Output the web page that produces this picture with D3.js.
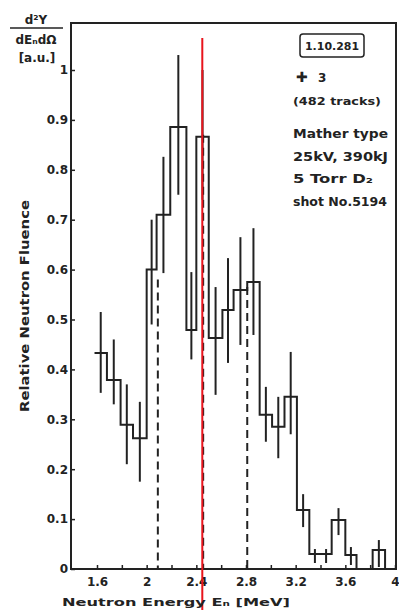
<!DOCTYPE html>
<html>
<head>
<meta charset="utf-8">
<script src="https://cdn.jsdelivr.net/npm/d3@7"></script>
<style>
  html, body { margin: 0; padding: 0; background: #fff; }
  svg { display: block; }
  text { font-family: "DejaVu Sans", sans-serif; font-weight: bold; fill: #222; }
</style>
</head>
<body>
<div id="chart"></div>
<script>
// histogram bins (neutron energy, MeV)
const binStart = [1.58, 1.68, 1.79, 1.89, 2.00, 2.08, 2.19, 2.32, 2.40, 2.50, 2.61, 2.70,
                  2.81, 2.91, 3.01, 3.11, 3.21, 3.31, 3.40, 3.49, 3.60, 3.69, 3.82];
const lastBinEnd = 3.92;
const fluence = [0.433, 0.379, 0.289, 0.262, 0.60, 0.71, 0.886, 0.479, 0.866, 0.463, 0.519, 0.559,
                 0.575, 0.309, 0.285, 0.345, 0.118, 0.03, 0.03, 0.098, 0.028, 0, 0.038];
const errLow  = [0.353, 0.33, 0.21, 0.175, 0.49, 0.593, 0.75, 0.42, 0.74, 0.349, 0.413, 0.449,
                 0.469, 0.255, 0.222, 0.27, 0.084, 0.012, 0.012, 0.068, 0.008, null, 0.004];
const errHigh = [0.515, 0.46, 0.37, 0.335, 0.70, 0.826, 1.03, 0.595, 1.0, 0.565, 0.623, 0.665,
                 0.683, 0.365, 0.345, 0.435, 0.15, 0.04, 0.04, 0.122, 0.044, null, 0.058];

// dashed markers (FWHM limits and mean) and the red marker line
const dashedE = [2.09, 2.455, 2.81];
const dashedTop = [0.58, 0.87, 0.565];
const redLineE = 2.448;

const xTicks = [1.6, 1.8, 2.0, 2.2, 2.4, 2.6, 2.8, 3.0, 3.2, 3.4, 3.6, 3.8, 4.0];
const xTickLabels = {1.6: "1.6", 2.0: "2", 2.4: "2.4", 2.8: "2.8", 3.2: "3.2", 3.6: "3.6", 4.0: "4"};
const yTicks = [0, 0.1, 0.2, 0.3, 0.4, 0.5, 0.6, 0.7, 0.8, 0.9, 1];

const infoLines = ["Mather type", "25kV, 390kJ", "5 Torr D\u2082", "shot No.5194"];

const width = 399, height = 610;
const frame = { left: 71, top: 23, right: 396, bottom: 569 };

const svg = d3.select("#chart").append("svg")
  .attr("width", width)
  .attr("height", height);

const x = d3.scaleLinear().domain([1.6, 4.0]).range([97, 395]);
const y = d3.scaleLinear().domain([0, 1]).range([frame.bottom, 70]);

// frame
svg.append("rect")
  .attr("x", frame.left).attr("y", frame.top)
  .attr("width", frame.right - frame.left).attr("height", frame.bottom - frame.top)
  .attr("fill", "none").attr("stroke", "#222").attr("stroke-width", 2);

// axes, ticks pointing inside
const yAxis = svg.append("g")
  .attr("transform", `translate(${frame.left},0)`)
  .call(d3.axisLeft(y).tickValues(yTicks).tickSize(-4).tickPadding(3)
    .tickFormat(d => d === 0 ? "0" : d === 1 ? "1" : d.toFixed(1)));
yAxis.select(".domain").remove();
yAxis.selectAll(".tick line").attr("stroke", "#222").attr("stroke-width", 1.5);
yAxis.selectAll(".tick text").attr("font-size", 12).attr("fill", "#222")
  .style("font-family", "DejaVu Sans").style("font-weight", "bold");

const xAxis = svg.append("g")
  .attr("transform", `translate(0,${frame.bottom})`)
  .call(d3.axisBottom(x).tickValues(xTicks).tickSize(-4).tickPadding(8)
    .tickFormat(d => xTickLabels[d] || ""));
xAxis.select(".domain").remove();
xAxis.selectAll(".tick line").attr("stroke", "#222").attr("stroke-width", 1.5);
xAxis.selectAll(".tick text").attr("font-size", 12).attr("fill", "#222")
  .style("font-family", "DejaVu Sans").style("font-weight", "bold");

// dashed lines
svg.selectAll(".dash").data(dashedE).enter().append("line")
  .attr("class", "dash")
  .attr("x1", d => x(d)).attr("x2", d => x(d))
  .attr("y1", (d, i) => y(dashedTop[i])).attr("y2", y(0))
  .attr("stroke", "#222").attr("stroke-width", 2).attr("stroke-dasharray", "8,5");

// step histogram
const pts = binStart.map((s, i) => [s, fluence[i]]);
pts.push([lastBinEnd, fluence[fluence.length - 1]]);
pts.push([lastBinEnd, 0]);
const step = d3.line().x(d => x(d[0])).y(d => y(d[1])).curve(d3.curveStepAfter);
svg.append("path")
  .attr("d", step(pts))
  .attr("fill", "none").attr("stroke", "#222").attr("stroke-width", 2);

// error bars at bin centres
const bins = binStart.map((s, i) => ({
  mid: (s + (i < binStart.length - 1 ? binStart[i + 1] : lastBinEnd)) / 2,
  lo: errLow[i], hi: errHigh[i]
})).filter(b => b.lo !== null);
svg.selectAll(".err").data(bins).enter().append("line")
  .attr("class", "err")
  .attr("x1", d => x(d.mid)).attr("x2", d => x(d.mid))
  .attr("y1", d => y(d.lo)).attr("y2", d => y(d.hi))
  .attr("stroke", "#222").attr("stroke-width", 2);

// red marker line
svg.append("line")
  .attr("x1", x(redLineE)).attr("x2", x(redLineE))
  .attr("y1", 38).attr("y2", height)
  .attr("stroke", "#e8141c").attr("stroke-width", 2);

// y label (top-left fraction)
svg.append("text").attr("x", 36).attr("y", 24).attr("text-anchor", "middle")
  .attr("font-size", 12).text("d\u00B2Y");
svg.append("line").attr("x1", 10).attr("x2", 63).attr("y1", 28).attr("y2", 28)
  .attr("stroke", "#222").attr("stroke-width", 1.5);
svg.append("text").attr("x", 36).attr("y", 44).attr("text-anchor", "middle")
  .attr("font-size", 12).text("dE\u2099d\u03A9");
svg.append("text").attr("x", 37).attr("y", 62).attr("text-anchor", "middle")
  .attr("font-size", 12).text("[a.u.]");

// axis titles
svg.append("text")
  .attr("transform", "translate(29,306) rotate(-90)")
  .attr("text-anchor", "middle").attr("font-size", 12)
  .attr("textLength", 212).attr("lengthAdjust", "spacingAndGlyphs")
  .text("Relative Neutron Fluence");
svg.append("text")
  .attr("x", 62).attr("y", 606).attr("font-size", 11)
  .attr("textLength", 228).attr("lengthAdjust", "spacingAndGlyphs")
  .text("Neutron Energy   E\u2099 [MeV]");

// legend block on the right
svg.append("rect").attr("x", 300).attr("y", 34).attr("width", 64).attr("height", 23)
  .attr("rx", 3).attr("fill", "none").attr("stroke", "#222").attr("stroke-width", 1.5);
svg.append("text").attr("x", 332).attr("y", 50).attr("text-anchor", "middle")
  .attr("font-size", 11).attr("textLength", 54).attr("lengthAdjust", "spacingAndGlyphs")
  .text("1.10.281");
svg.append("text").attr("x", 296).attr("y", 82).attr("font-size", 14).text("\u271A");
svg.append("text").attr("x", 318).attr("y", 82).attr("font-size", 12).text("3");
svg.append("text").attr("x", 293).attr("y", 105).attr("font-size", 11)
  .attr("textLength", 88).attr("lengthAdjust", "spacingAndGlyphs").text("(482 tracks)");
svg.selectAll(".info").data(infoLines).enter().append("text")
  .attr("class", "info")
  .attr("x", 293).attr("y", (d, i) => 138 + i * 22.5)
  .attr("font-size", 12)
  .attr("textLength", (d, i) => [95, 95, 80, 94][i]).attr("lengthAdjust", "spacingAndGlyphs")
  .text(d => d);
</script>
</body>
</html>
